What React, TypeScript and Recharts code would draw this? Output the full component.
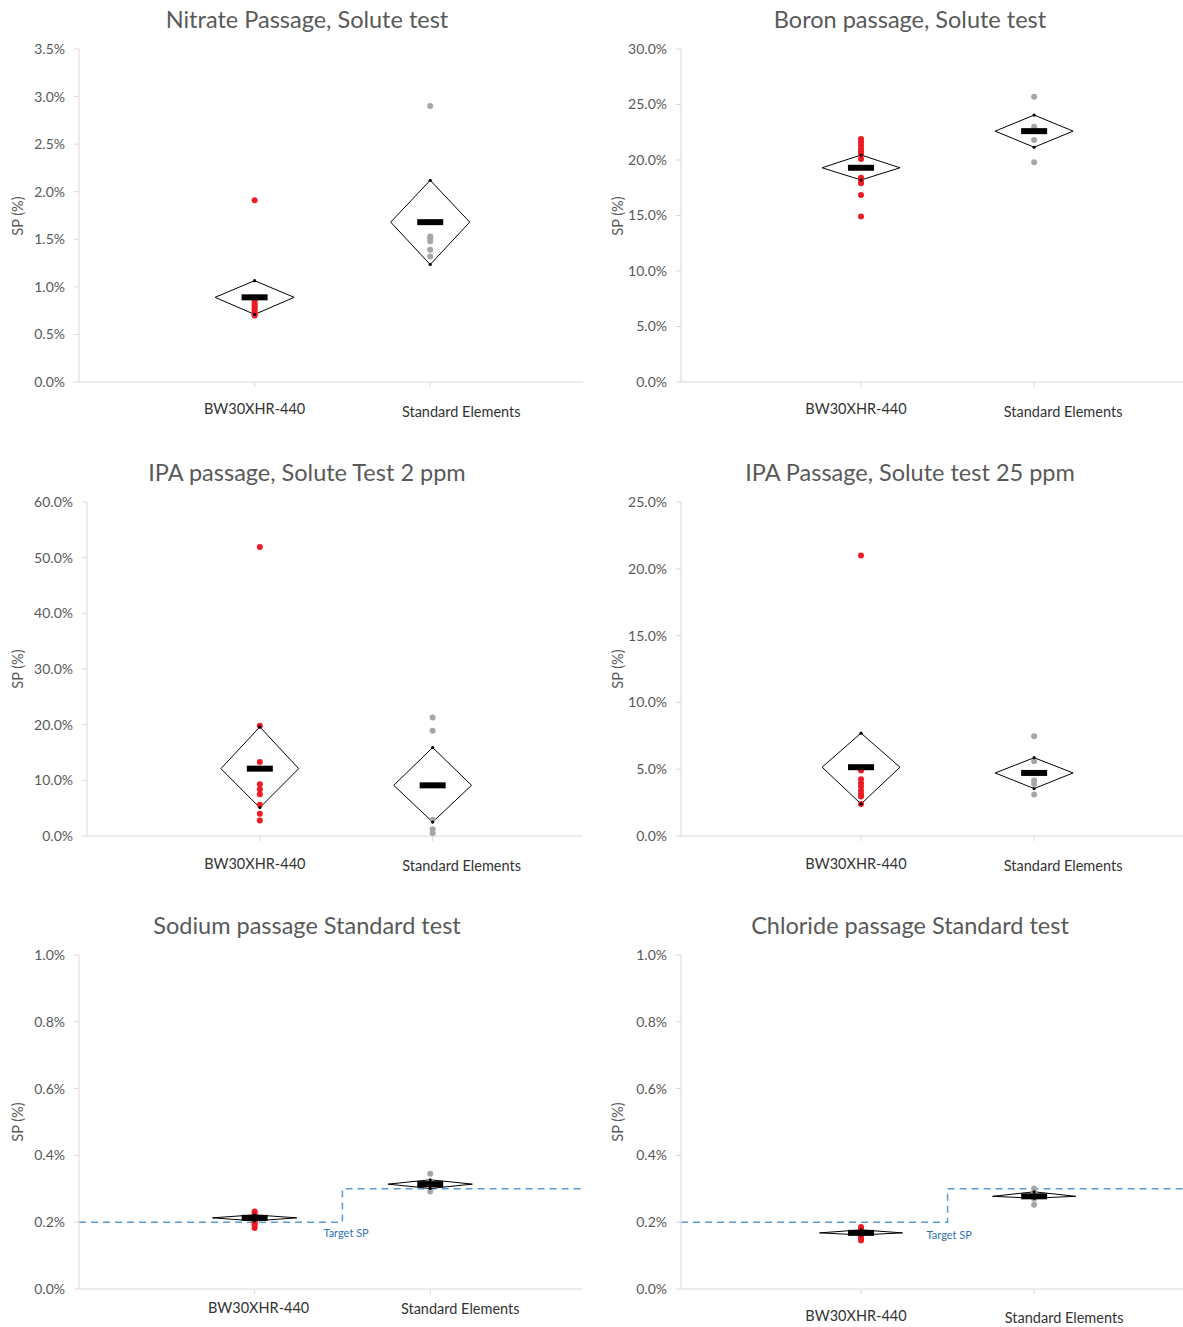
import React from 'react';
import { ComposedChart, XAxis, YAxis, Scatter, Line } from 'recharts';

const groups = ['BW30XHR-440', 'Standard Elements'];
const groupX = [1, 2];

// Nitrate
const nitrateBW = [1.91, 0.86, 0.83, 0.81, 0.79, 0.77, 0.75, 0.73, 0.71, 0.7];
const nitrateStd = [2.9, 1.53, 1.51, 1.48, 1.39, 1.32];
const nitrateMean = [0.89, 1.68];
const nitrateHigh = [1.065, 2.12];
const nitrateLow = [0.71, 1.235];
const nitrateTicks = [0, 0.5, 1, 1.5, 2, 2.5, 3, 3.5];

// Boron
const boronBW = [21.9, 21.6, 21.3, 21.0, 20.75, 20.5, 20.1, 18.4, 18.2, 17.9, 16.85, 14.9];
const boronStd = [25.7, 23.0, 21.8, 19.8];
const boronMean = [19.3, 22.6];
const boronHigh = [20.45, 24.05];
const boronLow = [18.2, 21.15];
const boronTicks = [0, 5, 10, 15, 20, 25, 30];

// IPA 2 ppm
const ipa2BW = [51.9, 19.8, 13.3, 9.3, 8.4, 7.5, 5.6, 4.0, 2.8];
const ipa2Std = [21.3, 18.9, 2.9, 1.2, 0.5];
const ipa2Mean = [12.1, 9.1];
const ipa2High = [19.6, 15.9];
const ipa2Low = [5.1, 2.5];
const ipa2Ticks = [0, 10, 20, 30, 40, 50, 60];

// IPA 25 ppm
const ipa25BW = [21.0, 4.9, 4.25, 3.95, 3.7, 3.4, 3.15, 2.95, 2.4];
const ipa25Std = [7.46, 5.6, 4.15, 3.9, 3.1];
const ipa25Mean = [5.15, 4.72];
const ipa25High = [7.7, 5.86];
const ipa25Low = [2.4, 3.55];
const ipa25Ticks = [0, 5, 10, 15, 20, 25];

// Sodium
const sodiumBW = [0.232, 0.226, 0.221, 0.216, 0.211, 0.206, 0.2, 0.195, 0.19, 0.183];
const sodiumStd = [0.345, 0.32, 0.31, 0.292];
const sodiumMean = [0.213, 0.314];
const sodiumHigh = [0.222, 0.327];
const sodiumLow = [0.204, 0.301];
const sodiumTargetX = [0, 1.5, 2.87];
const sodiumTargetSP = [0.2, 0.3, 0.3];

// Chloride
const chlorideBW = [0.186, 0.18, 0.175, 0.17, 0.165, 0.16, 0.153, 0.145];
const chlorideStd = [0.301, 0.29, 0.28, 0.27, 0.252];
const chlorideMean = [0.168, 0.2775];
const chlorideHigh = [0.177, 0.291];
const chlorideLow = [0.162, 0.272];
const chlorideTargetX = [-0.04, 1.5, 2.86];
const chlorideTargetSP = [0.2, 0.3, 0.3];

const standardTicks = [0, 0.2, 0.4, 0.6, 0.8, 1.0];

const RED = '#ec1c24';
const GREY = '#a6a6a6';
const AXIS = '#d9d9d9';
const TEXT = '#595959';
const FONT = 'Lato, "Liberation Sans", sans-serif';

const CatTick = (props: any) => {
  const { x, y, payload, offsets } = props;
  const i = groupX.indexOf(payload.value);
  if (i < 0) return null;
  const o = offsets[i];
  return (
    <text x={x + o[0]} y={y + o[1] - 7} textAnchor="middle" dominantBaseline="central" fill="#333" fontSize={14.5} fontFamily={FONT}>
      {groups[i]}
    </text>
  );
};

const Dot = (color: string, r: number) => (p: any) => <circle cx={p.cx} cy={p.cy} r={r} fill={color} />;
const MeanBar = (p: any) => <rect x={p.cx - 13} y={p.cy - 3} width={26} height={6} fill="#000" />;

interface PanelProps {
  title: string;
  bw: number[];
  std: number[];
  mean: number[];
  high: number[];
  low: number[];
  ticks: number[];
  col: number;
  row: number;
  axisX: number;
  xDomain: [number, number];
  halfW: number;
  tickOffsets: number[][];
  targetX?: number[];
  targetY?: number[];
  targetLabel?: number[];
}

const Panel: React.FC<PanelProps> = (p) => {
  const left = p.col ? 600 : 0;
  const top = p.row * 453;
  const width = p.col ? 583 : 590;
  const plotTop = 49;
  const plotH = p.row === 0 ? 333 : 334;
  const xAxisH = 40;
  const bottom = 453 - plotTop - plotH - xAxisH;

  const bwPts = p.bw.map((y) => ({ x: groupX[0], y }));
  const stdPts = p.std.map((y) => ({ x: groupX[1], y }));
  const means = groupX.map((x, i) => ({ x, y: p.mean[i] }));
  const vertices = groupX.flatMap((x, i) => [{ x, y: p.high[i] }, { x, y: p.low[i] }]);
  const diamonds = groupX.map((x, i) => [
    { x: x - p.halfW, y: p.mean[i] },
    { x, y: p.high[i] },
    { x: x + p.halfW, y: p.mean[i] },
    { x, y: p.low[i] },
    { x: x - p.halfW, y: p.mean[i] },
  ]);
  const target = p.targetX ? p.targetX.map((x, i) => ({ x, y: p.targetY![i] })) : null;
  const cx = left + (p.col ? 310 : 307);

  return (
    <>
      <div style={{ position: 'absolute', left: cx - 300, top: top + 3, width: 600, height: 32, lineHeight: '32px', textAlign: 'center', fontSize: 23.5, color: TEXT, fontFamily: FONT }}>
        {p.title}
      </div>
      <div style={{ position: 'absolute', left: left + 18 - 40, top: top + plotTop + plotH / 2 - 10, width: 80, height: 20, lineHeight: '20px', textAlign: 'center', fontSize: 14.5, color: TEXT, fontFamily: FONT, transform: 'rotate(-90deg)' }}>
        SP (%)
      </div>
      <div style={{ position: 'absolute', left, top }}>
        <ComposedChart width={width} height={453} margin={{ top: plotTop, right: p.col ? 0 : 7, bottom, left: 0 }}>
          <XAxis
            type="number"
            dataKey="x"
            domain={p.xDomain}
            allowDataOverflow
            ticks={groupX}
            height={xAxisH}
            axisLine={{ stroke: AXIS }}
            tickLine={{ stroke: AXIS }}
            tickSize={5}
            tick={<CatTick offsets={p.tickOffsets} />}
          />
          <YAxis
            type="number"
            dataKey="y"
            width={p.axisX - left}
            domain={[p.ticks[0], p.ticks[p.ticks.length - 1]]}
            ticks={p.ticks}
            allowDataOverflow
            axisLine={{ stroke: AXIS }}
            tickLine={{ stroke: AXIS }}
            tickSize={5}
            tickMargin={9}
            tick={{ fill: TEXT, fontSize: 14, fontFamily: FONT }}
            tickFormatter={(v: number) => `${v.toFixed(1)}%`}
          />
          {target && (
            <Line data={target} dataKey="y" type="stepAfter" stroke="#5b9bd5" strokeWidth={1.5} strokeDasharray="7 5" dot={false} isAnimationActive={false} />
          )}
          {diamonds.map((d, i) => (
            <Line key={i} data={d} dataKey="y" type="linear" stroke="#000" strokeWidth={1} dot={false} isAnimationActive={false} />
          ))}
          <Scatter data={bwPts} shape={Dot(RED, 3)} isAnimationActive={false} />
          <Scatter data={stdPts} shape={Dot(GREY, 3)} isAnimationActive={false} />
          <Scatter data={means} shape={MeanBar} isAnimationActive={false} />
          <Scatter data={vertices} shape={Dot('#000', 1.6)} isAnimationActive={false} />
          {target && p.targetLabel && (
            <Scatter
              data={[{ x: p.targetX![1], y: p.targetY![0] }]}
              isAnimationActive={false}
              shape={(s: any) => (
                <text x={s.cx + p.targetLabel![0]} y={s.cy + p.targetLabel![1]} dominantBaseline="central" fill="#2e75b6" fontSize={11} fontFamily={FONT}>
                  Target SP
                </text>
              )}
            />
          )}
        </ComposedChart>
      </div>
    </>
  );
};

export default function App() {
  return (
    <div style={{ position: 'absolute', left: 0, top: 0, width: 1183, height: 1327, background: '#fff', overflow: 'hidden' }}>
      <Panel title="Nitrate Passage, Solute test" bw={nitrateBW} std={nitrateStd} mean={nitrateMean} high={nitrateHigh} low={nitrateLow}
        ticks={nitrateTicks} col={0} row={0} axisX={79} xDomain={[0, 2.87]} halfW={0.225} tickOffsets={[[0, 26], [31, 29]]} />
      <Panel title="Boron passage, Solute test" bw={boronBW} std={boronStd} mean={boronMean} high={boronHigh} low={boronLow}
        ticks={boronTicks} col={1} row={0} axisX={681} xDomain={[-0.04, 2.86]} halfW={0.225} tickOffsets={[[-5, 26], [29, 29]]} />
      <Panel title="IPA passage, Solute Test 2 ppm" bw={ipa2BW} std={ipa2Std} mean={ipa2Mean} high={ipa2High} low={ipa2Low}
        ticks={ipa2Ticks} col={0} row={1} axisX={87} xDomain={[0, 2.87]} halfW={0.225} tickOffsets={[[-5, 27], [29, 29]]} />
      <Panel title="IPA Passage, Solute test 25 ppm" bw={ipa25BW} std={ipa25Std} mean={ipa25Mean} high={ipa25High} low={ipa25Low}
        ticks={ipa25Ticks} col={1} row={1} axisX={681} xDomain={[-0.04, 2.86]} halfW={0.225} tickOffsets={[[-5, 27], [29, 29]]} />
      <Panel title="Sodium passage Standard test" bw={sodiumBW} std={sodiumStd} mean={sodiumMean} high={sodiumHigh} low={sodiumLow}
        ticks={standardTicks} col={0} row={2} axisX={79} xDomain={[0, 2.87]} halfW={0.24} tickOffsets={[[4, 18], [30, 19]]}
        targetX={sodiumTargetX} targetY={sodiumTargetSP} targetLabel={[-19, 10]} />
      <Panel title="Chloride passage Standard test" bw={chlorideBW} std={chlorideStd} mean={chlorideMean} high={chlorideHigh} low={chlorideLow}
        ticks={standardTicks} col={1} row={2} axisX={681} xDomain={[-0.04, 2.86]} halfW={0.24} tickOffsets={[[-5, 26], [30, 28]]}
        targetX={chlorideTargetX} targetY={chlorideTargetSP} targetLabel={[-21, 12]} />
    </div>
  );
}
